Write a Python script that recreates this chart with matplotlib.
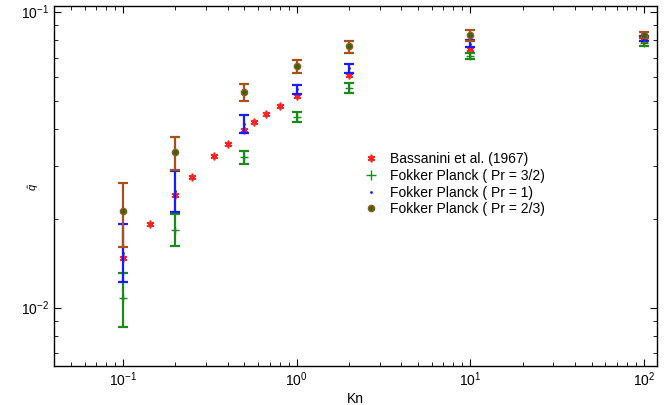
import matplotlib
matplotlib.use("Agg")
import matplotlib.pyplot as plt
from matplotlib.lines import Line2D
from matplotlib.ticker import LogLocator, NullFormatter

plt.rcParams['font.family'] = ['Liberation Sans', 'DejaVu Sans']
plt.rcParams['mathtext.fontset'] = 'custom'
plt.rcParams['mathtext.rm'] = 'Liberation Sans'
plt.rcParams['mathtext.it'] = 'Liberation Sans:italic'

# Bassanini et al. (1967)
kn_bass = [0.1, 0.143, 0.2, 0.25, 0.333, 0.4, 0.5, 0.571, 0.667, 0.8, 1.0, 2.0, 10.0, 100.0]
q_bass = [0.0147, 0.0192, 0.0240, 0.0276, 0.0325, 0.0357, 0.0398, 0.0424, 0.0451, 0.0480,
          0.0519, 0.0611, 0.0745, 0.0801]

kn_fp = [0.1, 0.2, 0.5, 1.0, 2.0, 10.0, 100.0]

# Fokker Planck Pr = 3/2
q_32 = [0.01081, 0.01832, 0.0322, 0.0441, 0.0552, 0.0710, 0.0781]
q_32_hi = [0.01306, 0.0207, 0.0339, 0.0459, 0.0573, 0.0723, 0.0795]
q_32_lo = [0.00857, 0.01618, 0.0305, 0.0423, 0.0532, 0.0693, 0.0767]

# Fokker Planck Pr = 1
q_1 = [0.0153, 0.0247, 0.0417, 0.0546, 0.0643, 0.0779, 0.0810]
q_1_hi = [0.01915, 0.0290, 0.0448, 0.0566, 0.0665, 0.0801, 0.0826]
q_1_lo = [0.01216, 0.0210, 0.0388, 0.0526, 0.0621, 0.0757, 0.0795]

# Fokker Planck Pr = 2/3
q_23 = [0.0212, 0.0335, 0.0534, 0.0653, 0.0765, 0.0833, 0.0833]
q_23_hi = [0.0264, 0.0376, 0.0570, 0.0686, 0.0795, 0.0867, 0.0855]
q_23_lo = [0.0160, 0.0292, 0.0498, 0.0621, 0.0726, 0.0796, 0.0812]

labels = ['Bassanini et al. (1967)', 'Fokker Planck ( Pr = 3/2)',
          'Fokker Planck ( Pr = 1)', 'Fokker Planck ( Pr = 2/3)']

c_red = '#ff2020'
c_green = '#1a8a1a'
c_blue = '#1a1aff'
c_brown = '#a8501c'
c_fill = '#2a6a10'


def yerr(c, lo, hi):
    return [[ci - l for ci, l in zip(c, lo)], [h - ci for ci, h in zip(c, hi)]]


fig = plt.figure(figsize=(6.65, 4.05), dpi=100)
ax = fig.add_axes([54 / 665, 1 - 366 / 405, (657 - 54) / 665, (366 - 6) / 405])

ax.plot(kn_bass, q_bass, linestyle='none', marker=(6, 2, 0), markersize=5.5,
        color=c_red, markeredgewidth=1.2)
ax.errorbar(kn_fp, q_32, yerr=yerr(q_32, q_32_lo, q_32_hi), fmt='+', color=c_green,
            ecolor=c_green, markersize=6, elinewidth=1.6, capsize=3.5, capthick=1.6)
ax.errorbar(kn_fp, q_1, yerr=yerr(q_1, q_1_lo, q_1_hi), fmt='.', color=c_blue,
            ecolor=c_blue, markersize=2, elinewidth=1.6, capsize=3.5, capthick=1.6)
ax.errorbar(kn_fp, q_23, yerr=yerr(q_23, q_23_lo, q_23_hi), fmt='o', color=c_brown,
            markerfacecolor=c_fill, markeredgecolor=c_brown, markersize=4.5,
            ecolor=c_brown, elinewidth=1.6, capsize=3.5, capthick=1.6)

ax.set_xscale('log')
ax.set_yscale('log')
ax.set_xlim(0.04, 119)
ax.set_ylim(0.00635, 0.1045)

ax.xaxis.set_major_locator(LogLocator(base=10, numticks=10))
ax.xaxis.set_minor_locator(LogLocator(base=10, subs=range(2, 10), numticks=20))
ax.xaxis.set_minor_formatter(NullFormatter())
ax.yaxis.set_minor_formatter(NullFormatter())

ax.tick_params(which='both', direction='in', top=True, right=True, labelsize=10)
ax.tick_params(which='major', length=5, width=0.8)
ax.tick_params(which='minor', length=3, width=0.6)
for s in ax.spines.values():
    s.set_linewidth(1.0)

ax.set_xlabel('Kn', fontsize=10, labelpad=2)
fig.text(34 / 665, 1 - 187 / 405, r'$\hat{q}$', fontsize=8, rotation=90,
         ha='center', va='center')

handles = [
    Line2D([], [], linestyle='none', marker=(6, 2, 0), markersize=5.5, color=c_red,
           markeredgewidth=1.2),
    Line2D([], [], linestyle='none', marker='+', markersize=7, color=c_green),
    Line2D([], [], linestyle='none', marker='.', markersize=2, color=c_blue),
    Line2D([], [], linestyle='none', marker='o', markersize=4.5, markerfacecolor=c_fill,
           markeredgecolor=c_brown),
]
ax.legend(handles, labels, loc='upper left', bbox_to_anchor=(0.502, 0.61), frameon=False,
          fontsize=10, handletextpad=0.8, labelspacing=0.2, handlelength=1.2,
          borderaxespad=0)

fig.savefig('out.png', dpi=100)
